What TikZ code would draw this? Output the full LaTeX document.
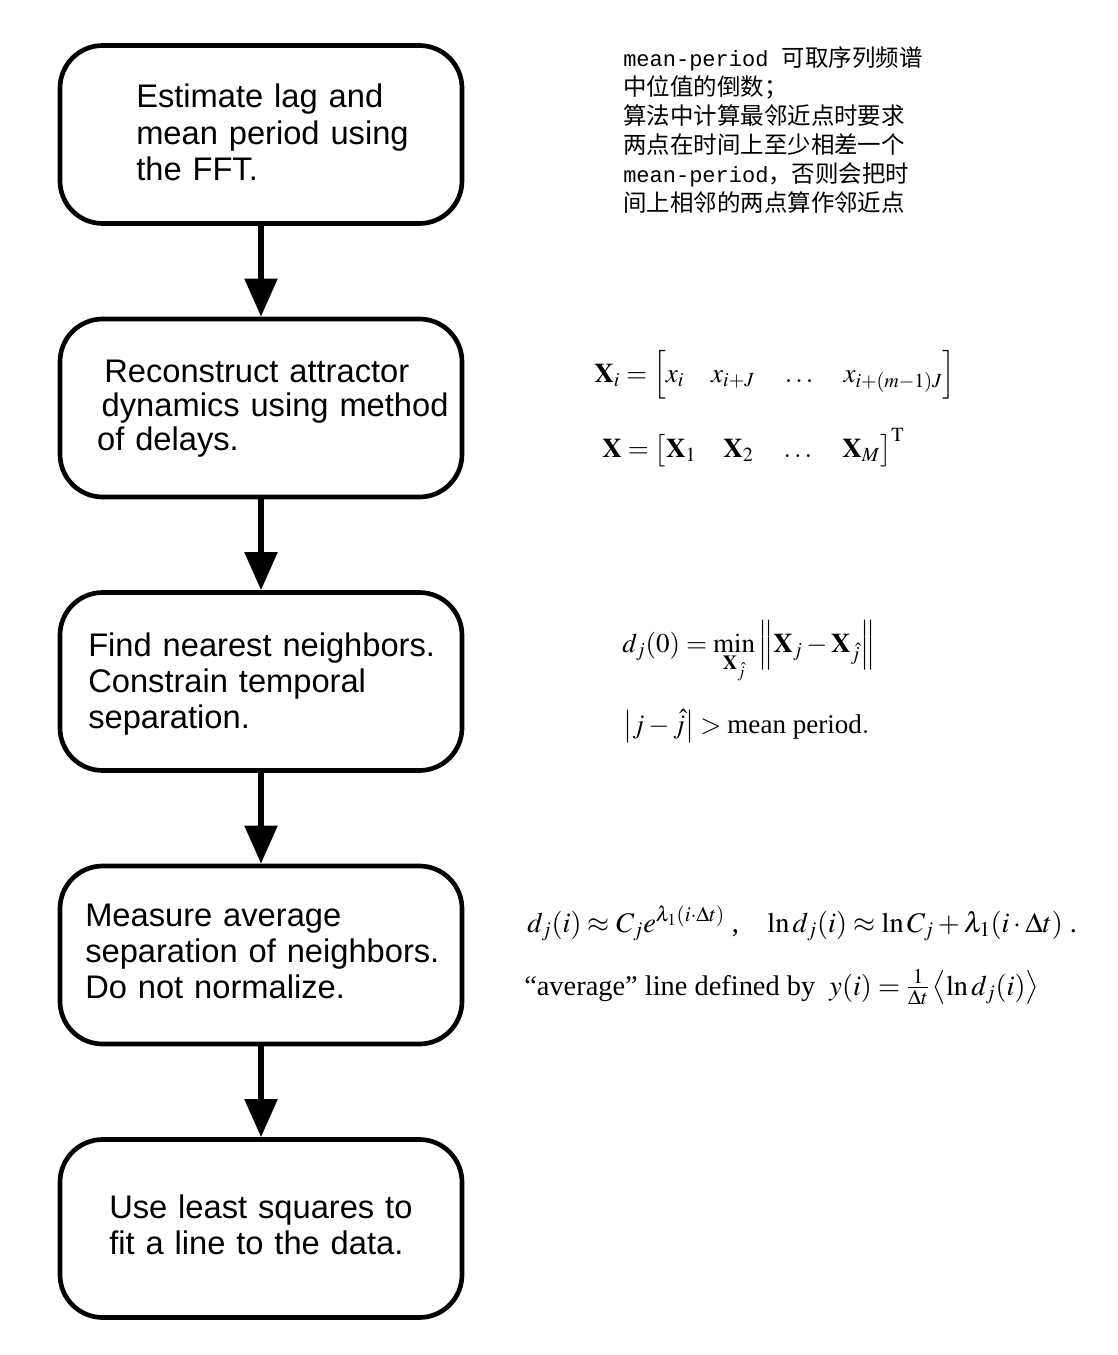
\documentclass[tikz,border=0pt]{standalone}
\usepackage{mathptmx}
\usepackage{fontspec}
\setmainfont{Liberation Serif}
\newfontfamily\boxfont{Liberation Sans}
\newfontfamily\cjk{Noto Sans CJK SC}
\newfontfamily\mono{Liberation Mono}
\usetikzlibrary{arrows.meta}
\begin{document}
\begin{tikzpicture}[x=0.75pt,y=-0.75pt,
  stepbox/.style={draw, line width=3.5pt, rounded corners=32pt, minimum width=301.5pt, minimum height=133.5pt, inner sep=0pt},
  boxtext/.style={anchor=base west, inner sep=0pt, text width=320pt, align=left, font=\boxfont\fontsize{24.5}{27.3}\selectfont},
  flow/.style={line width=4pt, -{Triangle[width=24pt,length=28.5pt]}},
  note/.style={anchor=base west, inner sep=0pt, font=\fontsize{17.6}{21}\selectfont},
  eq/.style={anchor=base west, inner sep=0pt, font=\fontsize{20.3}{24}\selectfont},
  eqs/.style={anchor=base west, inner sep=0pt, font=\fontsize{21.3}{25}\selectfont}]
\useasboundingbox (0,0) rectangle (1117,1355);
% boxes
\node[stepbox] (b1) at (261,134.5) {};
\node[stepbox] (b2) at (261,408) {};
\node[stepbox] (b3) at (261,681.5) {};
\node[stepbox] (b4) at (261,955) {};
\node[stepbox] (b5) at (261,1228.5) {};
% box texts
\node[boxtext] (t1) at (136,108) {Estimate lag and\\mean period using\\the FFT.};
\node[boxtext] (t2) at (104,382) {Reconstruct attractor\\[-1.5pt]\hspace*{-1.9pt}dynamics using method\\[-1.5pt]\hspace*{-5.3pt}of delays.};
\node[boxtext] (t3) at (88,656) {Find nearest neighbors.\\Constrain temporal\\separation.};
\node[boxtext] (t4) at (85,926) {Measure average\\separation of neighbors.\\Do not normalize.};
\node[boxtext] (t5) at (109,1218) {Use least squares to\\fit a line to the data.};
% arrows
\draw[flow] (b1.south) -- (b2.north);
\draw[flow] (b2.south) -- (b3.north);
\draw[flow] (b3.south) -- (b4.north);
\draw[flow] (b4.south) -- (b5.north);
% notes
\node[note] (n1) at (623,67) {{\mono\fontsize{16.5}{21}\selectfont mean-period }\cjk 可取序列频谱};
\node[note] (n2) at (623,96) {\cjk 中位值的倒数；};
\node[note] (n3) at (623,125) {\cjk 算法中计算最邻近点时要求};
\node[note] (n4) at (623,154) {\cjk 两点在时间上至少相差一个};
\node[note] (n5) at (623,183) {{\mono\fontsize{16.5}{21}\selectfont mean-period}\cjk ，否则会把时};
\node[note] (n6) at (623,212) {\cjk 间上相邻的两点算作邻近点};
% equations
\node[eq] (e1) at (594,382) {$\mathbf{X}_i=\Bigl[x_i\quad x_{i+J}\quad\ldots\quad x_{i+(m-1)J}\Bigr]$};
\node[eq] (e2) at (602,457) {$\mathbf{X}=\bigl[\mathbf{X}_1\quad\mathbf{X}_2\quad\ldots\quad\mathbf{X}_M\bigr]^{\mathrm{T}}$};
\node[eq] (e3) at (622,652) {$d_j(0)=\min\limits_{\mathbf{X}_{\hat{j}}}\left\|\mathbf{X}_j-\mathbf{X}_{\hat{j}}\right\|$};
\node[eq] (e4) at (623,733) {$\left|j-\hat{j}\right|>\mbox{mean period}.$};
\node[eqs] (e5) at (527,932) {$d_j(i)\approx C_je^{\lambda_1(i\cdot\Delta t)}$\ ,\quad $\ln d_j(i)\approx\ln C_j+\lambda_1(i\cdot\Delta t)$\ .};
\node[eqs] (e6) at (524,995) {“average” line defined by\ \ $y(i)=\frac{1}{\Delta t}\left\langle\ln d_j(i)\right\rangle$};
\end{tikzpicture}
\end{document}
